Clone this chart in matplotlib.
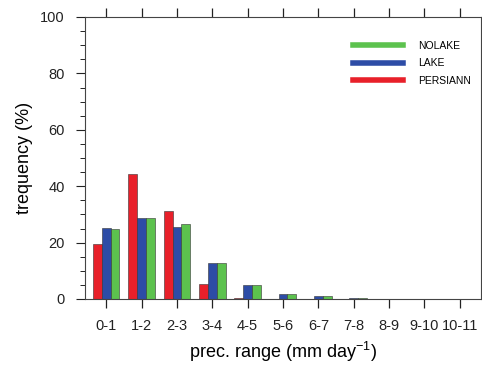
import numpy as np
import matplotlib
matplotlib.use("Agg")
import matplotlib.pyplot as plt
from matplotlib.lines import Line2D
from matplotlib.ticker import MultipleLocator

plt.rcParams["font.family"] = ["Liberation Sans", "DejaVu Sans"]

categories = ["0-1", "1-2", "2-3", "3-4", "4-5", "5-6", "6-7", "7-8", "8-9", "9-10", "10-11"]
persiann = [19.4, 44.2, 31.2, 5.3, 0.3, 0.0, 0.0, 0.0, 0.0, 0.0, 0.0]
lake = [25.2, 28.9, 25.5, 12.7, 5.1, 1.9, 1.0, 0.3, 0.1, 0.0, 0.0]
nolake = [24.7, 28.6, 26.5, 12.6, 5.1, 1.9, 0.9, 0.3, 0.1, 0.0, 0.0]

c_red, c_blue, c_green = "#e8202a", "#2d4ca6", "#5cc24e"

fig = plt.figure(figsize=(4.82, 3.66), dpi=100)
ax = fig.add_axes([85 / 482, 1 - 299 / 366, 396 / 482, 282 / 366])

x = np.arange(1, len(categories) + 1)
w = 0.25
ax.bar(x - w, persiann, w, color=c_red, edgecolor="#333333", lw=0.4)
ax.bar(x, lake, w, color=c_blue, edgecolor="#333333", lw=0.4)
ax.bar(x + w, nolake, w, color=c_green, edgecolor="#333333", lw=0.4)

ax.set_xlim(0.4, 11.6)
ax.set_ylim(0, 100)
ax.set_xticks(x)
ax.set_xticklabels(categories, fontsize=10.5)
ax.yaxis.set_major_locator(MultipleLocator(20))
ax.yaxis.set_minor_locator(MultipleLocator(5))
ax.tick_params(axis="y", labelsize=10.5, direction="out", length=6.5, width=0.8,
               colors="#222222", pad=8)
ax.tick_params(axis="y", which="minor", length=3.5, width=0.6)
ax.tick_params(axis="x", direction="out", length=6.5, width=0.9, top=True,
               colors="#222222", pad=8)
ax.tick_params(axis="y", right=False)
for s in ax.spines.values():
    s.set_color("#444444")
    s.set_linewidth(0.8)

ax.set_ylabel("trequency (%)", fontsize=13, labelpad=5)
ax.set_xlabel("prec. range (mm day$^{\\mathregular{-1}}$)", fontsize=13, labelpad=5)

handles = [Line2D([], [], color=c_green, lw=4),
           Line2D([], [], color=c_blue, lw=4),
           Line2D([], [], color=c_red, lw=4)]
ax.legend(handles, ["NOLAKE", "LAKE", "PERSIANN"], loc="upper right",
          bbox_to_anchor=(0.975, 0.915), borderaxespad=0, borderpad=0,
          frameon=False, fontsize=7.5,
          handlelength=4.8, handletextpad=1.5, labelspacing=0.7)

fig.savefig("out.png", dpi=100)
